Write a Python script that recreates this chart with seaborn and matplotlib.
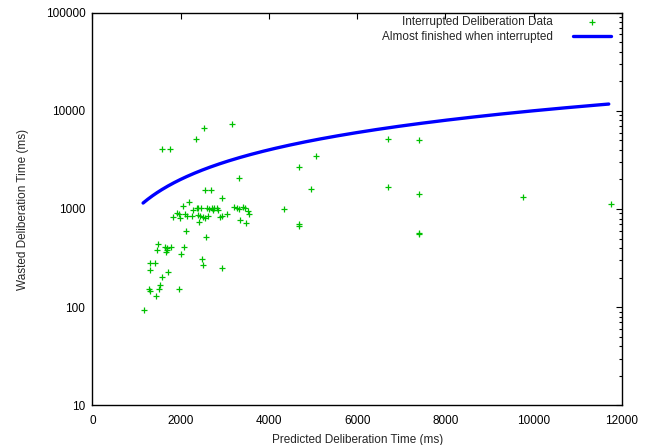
import numpy as np
import pandas as pd
import matplotlib
matplotlib.use("Agg")
import matplotlib.pyplot as plt
from matplotlib.ticker import FixedLocator, FuncFormatter, LogLocator, NullFormatter
import seaborn as sns

# Interrupted deliberations: predicted time vs. time wasted (ms)
predicted_ms = [
    2341, 1571, 1766, 3328, 2545, 2681, 2930, 2189, 2065, 2400,
    2364, 2454, 2590, 2703, 2762, 2816, 2853, 2739, 2649, 2287,
    3215, 3269, 3321, 3419, 3457, 3518, 3548, 1911, 1963, 1834,
    1986, 2099, 2137, 2264, 2400, 2438, 2513, 2552, 2626, 2891,
    2943, 3043, 2427, 3355, 3473, 2121, 2574, 1494, 1458, 1639,
    1684, 1775, 1664, 1696, 2076, 2015, 1306, 1426, 1302, 2490,
    2518, 2943, 1571, 1714, 1284, 1306, 1544, 1515, 1970, 1438,
    1175, 2529, 3163, 5065, 4687, 6701, 7403, 4951, 6701, 7403,
    4333, 4687, 4687, 7403, 7403, 9758, 11759,
]
wasted_ms = [
    5158, 4080, 4080, 2044, 1561, 1550, 1279, 1170, 1073, 1031,
    1016, 1031, 1031, 1016, 1031, 1016, 977, 977, 1000, 977,
    1055, 1016, 993, 1055, 1031, 954, 883, 904, 883, 835,
    804, 883, 855, 855, 869, 855, 835, 815, 855, 835,
    855, 883, 729, 773, 725, 593, 513, 437, 380, 410,
    398, 410, 362, 380, 410, 350, 284, 284, 238, 308,
    271, 251, 205, 227, 152, 147, 168, 153, 152, 129,
    93, 6672, 7330, 3487, 2694, 5121, 5038, 1598, 1687, 1421,
    1000, 704, 671, 576, 556, 1325, 1116,
]

# Reference curve: the whole predicted time is wasted (wasted = predicted)
curve_start_ms = 1150
curve_end_ms = 11700

x_ticks = [0, 2000, 4000, 6000, 8000, 10000, 12000]
y_ticks = [10, 100, 1000, 10000, 100000]

points = pd.DataFrame({"predicted": predicted_ms, "wasted": wasted_ms})
curve_x = np.linspace(curve_start_ms, curve_end_ms, 300)
curve = pd.DataFrame({"predicted": curve_x, "wasted": curve_x})

sns.set_theme(style="white")
plt.rcParams["font.family"] = ["Liberation Sans", "DejaVu Sans"]

fig = plt.figure(figsize=(6.52, 4.45), dpi=100)
ax = fig.add_axes([0.1416, 0.0888, 0.8124, 0.8831])

sns.scatterplot(data=points, x="predicted", y="wasted", marker="+",
                color="#00c000", s=22, linewidth=0.9,
                label="Interrupted Deliberation Data", ax=ax, zorder=3)
sns.lineplot(data=curve, x="predicted", y="wasted", color="#0000ff",
             linewidth=2.4, label="Almost finished when interrupted",
             ax=ax, zorder=2)

ax.set_yscale("log")
ax.set_xlim(0, 12000)
ax.set_ylim(10, 100000)
ax.xaxis.set_major_locator(FixedLocator(x_ticks))
ax.yaxis.set_major_locator(FixedLocator(y_ticks))
ax.yaxis.set_minor_locator(LogLocator(base=10, subs=np.arange(2, 10)))
ax.yaxis.set_minor_formatter(NullFormatter())
ax.yaxis.set_major_formatter(FuncFormatter(lambda v, _: f"{int(round(v))}"))
ax.xaxis.set_major_formatter(FuncFormatter(lambda v, _: f"{int(round(v))}"))

for side in ax.spines.values():
    side.set_color("black")
    side.set_linewidth(1.0)

ax.tick_params(axis="both", which="both", direction="in", top=True,
               right=True, colors="black", labelsize=8.5)
ax.tick_params(axis="both", which="major", length=4.5, width=0.8, pad=5)
ax.tick_params(axis="x", which="major", pad=7)
ax.tick_params(axis="y", which="minor", length=2.3, width=0.8)

ax.set_xlabel("Predicted Deliberation Time (ms)", fontsize=8.5, labelpad=5)
ax.set_ylabel("Wasted Deliberation Time (ms)", fontsize=8.5, labelpad=12)

leg = ax.legend(loc="upper right", bbox_to_anchor=(0.979, 0.991),
                frameon=False, markerfirst=False, fontsize=8.5,
                handlelength=3.2, borderaxespad=0.0, borderpad=0.0,
                labelspacing=0.25, handletextpad=1.7)

fig.savefig("out.png", dpi=100)
